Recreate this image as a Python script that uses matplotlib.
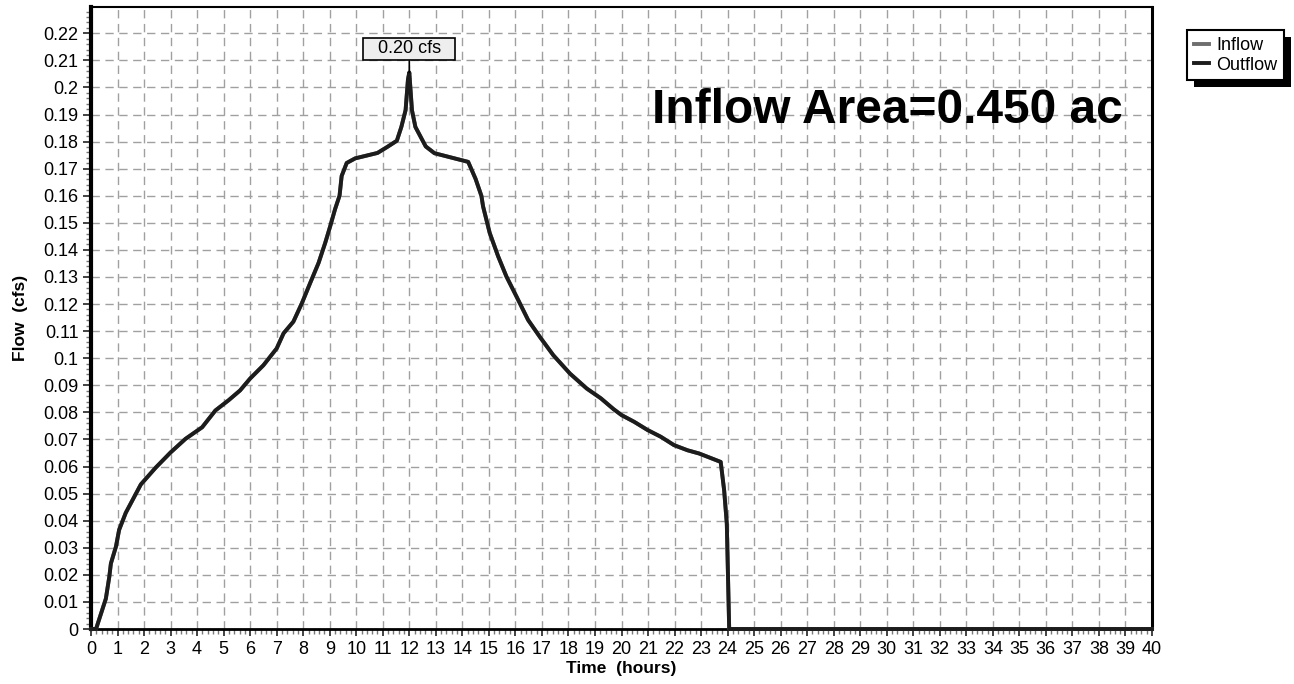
import matplotlib
matplotlib.use("Agg")
import matplotlib.pyplot as plt
from matplotlib.patches import Rectangle
from matplotlib.path import Path
from matplotlib.ticker import MultipleLocator

plt.rcParams['font.family'] = ['Liberation Sans', 'DejaVu Sans']

# ---- data ----
time_hr = [0, 0.19, 0.56, 0.69, 0.75, 0.94, 1.06, 1.31, 1.88, 2.44, 3.0, 3.56, 4.19,
           4.69, 5.19, 5.62, 6.0, 6.5, 7.0, 7.26, 7.63, 7.95, 8.26, 8.58, 8.83, 9.02,
           9.2, 9.37, 9.45, 9.64, 9.96, 10.8, 11.15, 11.53, 11.7, 11.86, 11.95, 12.0,
           12.1, 12.23, 12.62, 12.95, 14.22, 14.5, 14.72, 14.78, 15.03, 15.35, 15.66,
           16.04, 16.48, 16.92, 17.43, 18.06, 18.69, 19.22, 19.7, 20.0, 20.48, 20.98,
           21.48, 21.98, 22.49, 22.93, 23.74, 23.87, 23.97, 24.06, 40]
inflow_cfs = [0, 0, 0.0112, 0.0193, 0.0242, 0.0304, 0.0366, 0.0429, 0.0534, 0.0596,
              0.0652, 0.0702, 0.0745, 0.0807, 0.0845, 0.0881, 0.0925, 0.0974, 0.1036,
              0.1092, 0.1135, 0.1203, 0.1277, 0.1352, 0.1426, 0.1488, 0.155, 0.160,
              0.1673, 0.1721, 0.1738, 0.1758, 0.1779, 0.1803, 0.1854, 0.1916, 0.2030,
              0.2055, 0.1916, 0.1854, 0.1782, 0.1757, 0.1725, 0.1662, 0.1599, 0.1561,
              0.1463, 0.1376, 0.1302, 0.1228, 0.1141, 0.1079, 0.1011, 0.0943, 0.0888,
              0.0852, 0.0812, 0.079, 0.0765, 0.0735, 0.071, 0.0679, 0.066, 0.0648,
              0.0617, 0.0512, 0.0389, 0, 0]
outflow_cfs = list(inflow_cfs)  # outflow coincides with inflow

x_ticks = list(range(0, 41))
y_ticks = [i / 100 for i in range(0, 23)]
y_tick_labels = ['0'] + [('%.2f' % v).rstrip('0') for v in y_ticks[1:]]
peak_time = 12.0
peak_value = 0.2055
peak_label = '0.20 cfs'
title_text = 'Inflow Area=0.450 ac'
series_names = ['Inflow', 'Outflow']

# ---- figure ----
W, H = 1294, 684
fig = plt.figure(figsize=(W / 100, H / 100), dpi=100)
L, R, T, B = 91, 1152, 7, 629
ax = fig.add_axes([L / W, 1 - B / H, (R - L) / W, (B - T) / H])

ax.plot(time_hr, inflow_cfs, color='#6e6e6e', lw=2.8, clip_on=False,
        label=series_names[0], zorder=3, solid_joinstyle='round')
ax.plot(time_hr, outflow_cfs, color='#1c1c1c', lw=2.8, clip_on=False,
        label=series_names[1], zorder=4, solid_joinstyle='round')

ax.set_xlim(0, 40)
ax.set_ylim(0, 0.2297)
ax.set_xticks(x_ticks)
ax.set_xticklabels([str(v) for v in x_ticks])
ax.set_yticks(y_ticks)
ax.set_yticklabels(y_tick_labels)
ax.xaxis.set_minor_locator(MultipleLocator(0.2))
ax.yaxis.set_minor_locator(MultipleLocator(0.002))

ax.tick_params(axis='both', which='major', labelsize=13, direction='out',
               color='#222222', width=1.2)
ax.tick_params(axis='x', which='major', length=5, pad=4)
ax.tick_params(axis='y', which='major', length=6, pad=3)
ax.tick_params(axis='both', which='minor', direction='out', length=3.5,
               color='#777777', width=1.0)

ax.grid(True, which='major', color='#a0a0a0', lw=1.0, linestyle=(0, (6, 4)))
ax.set_axisbelow(True)

for side, lw in (('left', 3.0), ('bottom', 2.0), ('right', 2.2), ('top', 1.5)):
    ax.spines[side].set_linewidth(lw)
    ax.spines[side].set_color('black')

ax.set_xlabel('Time  (hours)', fontsize=12.5, fontweight='bold')
ax.set_ylabel('Flow  (cfs)', fontsize=12.5, fontweight='bold')
ax.xaxis.set_label_coords(0.5, -0.052)
ax.yaxis.set_label_coords(-0.059, 0.5)

ax.text(0.972, 0.833, title_text, transform=ax.transAxes, ha='right', va='center',
        fontsize=34.5, fontweight='bold')


# peak annotation with a wide rectangular box
def wide_box(x0, y0, width, height, mutation_size):
    px = 0.8 * mutation_size
    py = 0.16 * mutation_size
    x0, y0 = x0 - px, y0 - py
    x1, y1 = x0 + width + 2 * px, y0 + height + 2 * py
    return Path([(x0, y0), (x1, y0), (x1, y1), (x0, y1), (x0, y0)], closed=True)


ax.annotate(peak_label, xy=(peak_time, peak_value), xytext=(peak_time, 0.2142),
            ha='center', va='center', fontsize=13,
            bbox=dict(boxstyle=wide_box, facecolor='#eeeeee',
                      edgecolor='black', lw=1.2),
            arrowprops=dict(arrowstyle='-', color='black', lw=1.2,
                            shrinkA=0, shrinkB=0), zorder=6)

# legend with hard shadow
leg = fig.legend(loc='upper left', bbox_to_anchor=(1187 / W, 1 - 30 / H),
                 fontsize=13, frameon=True, fancybox=False, shadow=False,
                 framealpha=1, facecolor='white',
                 handlelength=0.85, handletextpad=0.4, borderpad=0.38,
                 labelspacing=0.15, borderaxespad=0)
leg.get_frame().set_edgecolor('black')
leg.get_frame().set_linewidth(1.5)
leg.set_zorder(10)
for line in leg.get_lines():
    line.set_linewidth(2.8)

fig.canvas.draw()
bb = leg.get_frame().get_window_extent().transformed(fig.transFigure.inverted())
dx, dy = 7 / W, 7 / H
fig.patches.append(Rectangle((bb.x0 + dx, bb.y0 - dy), bb.width, bb.height,
                             transform=fig.transFigure, facecolor='black',
                             edgecolor='none', zorder=9))

fig.savefig('out.png', dpi=100)
